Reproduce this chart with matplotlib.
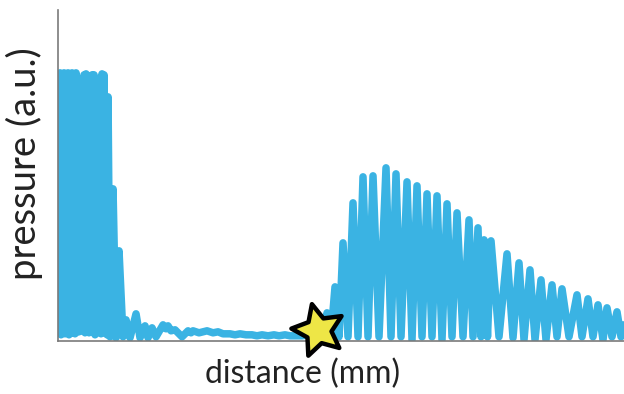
import numpy as np
import matplotlib
matplotlib.use("Agg")
import matplotlib.pyplot as plt
from matplotlib.markers import MarkerStyle
from matplotlib.path import Path
from matplotlib.transforms import Affine2D

plt.rcParams['font.family'] = ['Lato', 'DejaVu Sans']

# --- pressure trace, stored as crests and troughs (distance, pressure) ---
# first burst: tightly packed, saturated oscillation
crest_dist_1 = [0, 2, 4, 6, 8, 10, 12, 14, 16, 18, 20, 22, 24, 26, 28,
                30, 32, 34, 36, 38, 40, 42, 44, 46, 48]
crest_p_1 = [267, 268, 267, 268, 267, 268, 267, 268, 267, 268, 150, 40,
             210, 266, 267, 190, 70, 266, 266, 130, 30, 225, 267, 266, 120]
trough_dist_1 = [1, 3, 5, 7, 9, 11, 13, 15, 17, 19, 21, 23, 25, 27, 29,
                 31, 33, 35, 37, 39, 41, 43, 45, 47, 49]
trough_p_1 = [8, 6, 10, 7, 9, 6, 10, 8, 7, 12, 9, 14, 10, 8, 12,
              8, 12, 10, 6, 9, 10, 7, 12, 8, 6]

# ring-down after the first burst, then a quiet stretch
crest_dist_2 = [50, 55, 61, 68, 78, 87, 94, 105, 110, 117, 130, 135,
                149, 160, 172, 182, 194, 204, 216, 227, 238, 250, 262]
crest_p_2 = [244, 152, 90, 21, 27, 15, 13, 16, 15, 11, 10, 10,
             10, 9, 7, 7, 6, 6, 6, 6, 5, 6, 8]
trough_dist_2 = [52, 58, 65, 72, 82, 90, 98, 108, 113, 124, 133, 141,
                 155, 165, 177, 188, 199, 210, 221, 232, 244, 256, 266]
trough_p_2 = [4, 3, 4, 3, 3, 3, 4, 12, 10, 4, 8, 8,
              8, 7, 6, 6, 5, 5, 5, 5, 5, 6, 7]

# second burst: grows fast, then decays
crest_dist_3 = [269, 277, 285, 295, 305, 315, 328, 338, 349, 359, 369, 379,
                389, 399, 411, 420, 426, 433, 449, 461, 472, 483, 494, 504,
                519, 530, 540, 549, 559, 566]
crest_p_3 = [28, 54, 98, 138, 164, 165, 173, 167, 159, 155, 147, 145,
             137, 128, 121, 113, 101, 100, 87, 78, 71, 61, 56, 52,
             46, 42, 36, 33, 29, 16]
trough_dist_3 = [273, 281, 290, 300, 310, 321, 333, 343, 354, 364, 374, 384,
                 394, 405, 415, 423, 429.5, 441, 455, 466, 477, 488, 499, 511,
                 524, 535, 545, 554, 563]
trough_p_3 = [6, 4, 4, 4, 4, 4, 4, 4, 1, 4, 4, 1,
              4, 4, 4, 4, 4, 4, 3, 1, 1, 1, 4, 4,
              4, 4, 1, 4, 4]

# marked position on the trace
star_dist = [260]
star_pressure = [11]

line_color = '#3AB3E3'
star_color = '#EEE646'

dist = np.concatenate([crest_dist_1, trough_dist_1, crest_dist_2, trough_dist_2,
                       crest_dist_3, trough_dist_3])
pressure = np.concatenate([crest_p_1, trough_p_1, crest_p_2, trough_p_2,
                           crest_p_3, trough_p_3])
order = np.argsort(dist, kind='stable')
dist, pressure = dist[order], pressure[order]

fig = plt.figure(figsize=(6.24, 3.94), dpi=100)
ax = fig.add_axes([0.093, 0.135, 0.907, 0.84])

ax.plot(dist, pressure, color=line_color, lw=5.4,
        solid_joinstyle='round', solid_capstyle='round', zorder=2)

# slightly fat five-point star, tilted a little
star_path = Affine2D().rotate_deg(14).transform_path(Path.unit_regular_star(5, 0.48))
star = MarkerStyle(star_path, joinstyle='round')
ax.plot(star_dist, star_pressure, linestyle='none', marker=star,
        markersize=39, markerfacecolor=star_color, markeredgecolor='black',
        markeredgewidth=3.2, clip_on=False, zorder=5)

ax.set_xlim(0, 566)
ax.set_ylim(0, 331)
ax.set_xticks([])
ax.set_yticks([])
for side in ['top', 'right']:
    ax.spines[side].set_visible(False)
for side in ['left', 'bottom']:
    ax.spines[side].set_color('#7a7a7a')
    ax.spines[side].set_linewidth(1.2)
    ax.spines[side].set_zorder(3)

fig.text(303 / 624, 1 - 374 / 394, 'distance (mm)', fontsize=23,
         ha='center', va='center', color='#222222')
fig.text(24 / 624, 1 - 164 / 394, 'pressure (a.u.)', fontsize=27.5,
         ha='center', va='center', rotation=90, color='#222222')

fig.savefig('out.png', dpi=100)
